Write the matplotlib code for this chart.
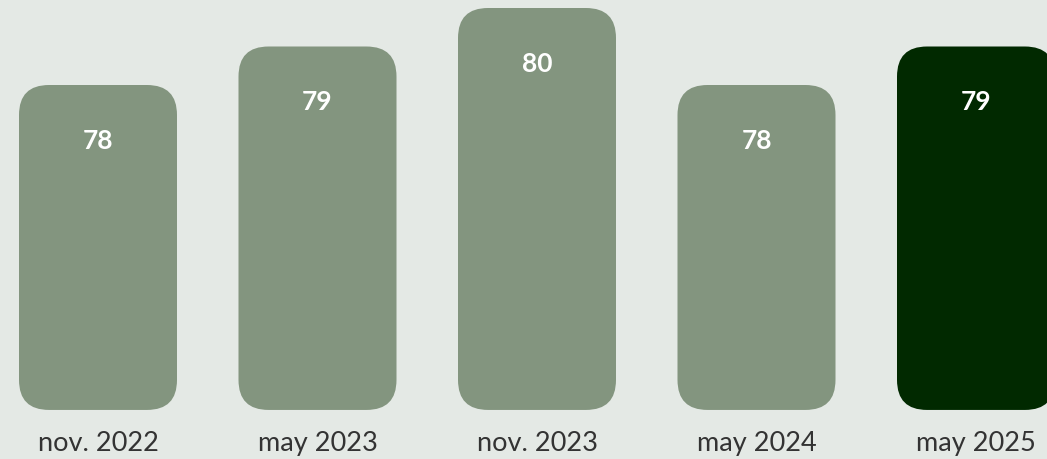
import matplotlib
matplotlib.use("Agg")
import matplotlib.pyplot as plt
from matplotlib.patches import FancyBboxPatch

categories = ["nov. 2022", "may 2023", "nov. 2023", "may 2024", "may 2025"]
values = [78, 79, 80, 78, 79]
bar_colors = ["#83957f", "#83957f", "#83957f", "#83957f", "#012900"]

bg = "#e4e9e5"
W, H = 1047, 459
fig = plt.figure(figsize=(W / 100, H / 100), dpi=100, facecolor=bg)
ax = fig.add_axes([0, 0, 1, 1])
ax.set_facecolor(bg)

px_per_x = 219.5
px_per_y = 38.5
baseline = 69.56
ax.set_xlim(-98 / px_per_x, 4 + (W - 976) / px_per_x)
ax.set_ylim(80 - (H - 8) / px_per_y, 80 + 8 / px_per_y)
ax.axis("off")

bw = 158 / px_per_x
r = 30 / px_per_x
for i, (v, c) in enumerate(zip(values, bar_colors)):
    p = FancyBboxPatch((i - bw / 2, baseline), bw, v - baseline,
                       boxstyle=f"round,pad=0,rounding_size={r}",
                       mutation_aspect=px_per_x / px_per_y,
                       facecolor=c, edgecolor="none")
    ax.add_patch(p)
    ax.annotate(str(v), (i, v), xytext=(0, -56), textcoords="offset pixels",
                ha="center", va="center", color="white", fontsize=19,
                fontweight="bold", family=["Lato", "DejaVu Sans"])
    ax.annotate(categories[i], (i, baseline), xytext=(0, -34), textcoords="offset pixels",
                ha="center", va="center", color="#333333", fontsize=19.5,
                family=["Lato", "DejaVu Sans"])

fig.savefig("out.png", dpi=100, facecolor=bg)
